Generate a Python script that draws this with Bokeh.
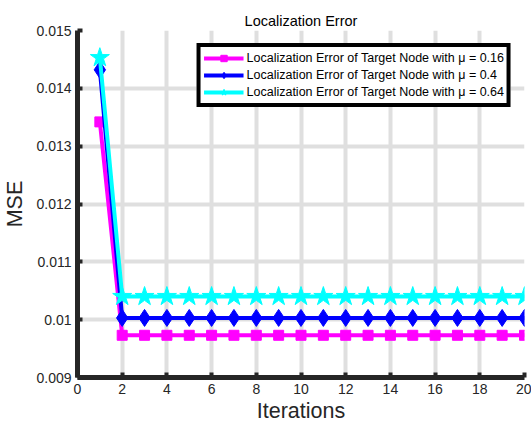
from bokeh.plotting import figure
from bokeh.models import Range1d, FixedTicker, Legend, LegendItem
from bokeh.embed import file_html
from bokeh.resources import INLINE

iterations = [1, 2, 3, 4, 5, 6, 7, 8, 9, 10, 11, 12, 13, 14, 15, 16, 17, 18, 19, 20]
mse_016 = [0.01342, 0.00973, 0.00973, 0.00973, 0.00973, 0.00973, 0.00973, 0.00973, 0.00973, 0.00973,
           0.00973, 0.00973, 0.00973, 0.00973, 0.00973, 0.00973, 0.00973, 0.00973, 0.00973, 0.00973]
mse_04 = [0.01432, 0.01003, 0.01003, 0.01003, 0.01003, 0.01003, 0.01003, 0.01003, 0.01003, 0.01003,
          0.01003, 0.01003, 0.01003, 0.01003, 0.01003, 0.01003, 0.01003, 0.01003, 0.01003, 0.01003]
mse_064 = [0.01453, 0.0104, 0.0104, 0.0104, 0.0104, 0.0104, 0.0104, 0.0104, 0.0104, 0.0104,
           0.0104, 0.0104, 0.0104, 0.0104, 0.0104, 0.0104, 0.0104, 0.0104, 0.0104, 0.0104]

x_ticks = [0, 2, 4, 6, 8, 10, 12, 14, 16, 18, 20]
y_ticks = [0.009, 0.01, 0.011, 0.012, 0.013, 0.014, 0.015]
y_tick_labels = ["0.009", "0.01", "0.011", "0.012", "0.013", "0.014", "0.015"]

labels = [
    "Localization Error of Target Node with \u03bc = 0.16",
    "Localization Error of Target Node with \u03bc = 0.4",
    "Localization Error of Target Node with \u03bc = 0.64",
]

FONT = "Liberation Sans"

p = figure(width=531, height=428, output_backend="svg", toolbar_location=None,
           x_range=Range1d(0, 20), y_range=Range1d(0.009, 0.015),
           min_border_left=77, min_border_right=7, min_border_top=30, min_border_bottom=51)
p.outline_line_color = None
p.background_fill_color = "white"
p.border_fill_color = "white"

p.title.text = "Localization Error"
p.title.align = "center"
p.title.text_font = FONT
p.title.text_font_size = "14.5px"
p.title.text_font_style = "normal"
p.title.text_color = "black"
p.title.standoff = 4

for ax in (p.xaxis[0], p.yaxis[0]):
    ax.axis_line_color = "#262626"
    ax.axis_line_width = 5
    ax.major_tick_line_color = "#262626"
    ax.major_tick_line_width = 4
    ax.major_tick_in = 5
    ax.major_tick_out = 0
    ax.minor_tick_line_color = None
    ax.major_label_text_font = FONT
    ax.major_label_text_font_size = "14px"
    ax.major_label_text_color = "#262626"
    ax.axis_label_text_font = FONT
    ax.axis_label_text_font_size = "21.5px"
    ax.axis_label_text_font_style = "normal"
    ax.axis_label_text_color = "#262626"

p.xaxis.ticker = FixedTicker(ticks=x_ticks)
p.yaxis.ticker = FixedTicker(ticks=y_ticks)
p.yaxis.major_label_overrides = {t: l for t, l in zip(y_ticks, y_tick_labels)}
p.xaxis.axis_label = "Iterations"
p.yaxis.axis_label = "MSE"
p.xaxis.major_label_standoff = 6
p.xaxis.axis_label_standoff = 2
p.yaxis.major_label_standoff = 6
p.yaxis.axis_label_standoff = 6

p.grid.grid_line_color = "#dfdfdf"
p.grid.grid_line_width = 4
p.xgrid.ticker = FixedTicker(ticks=x_ticks)
p.ygrid.ticker = FixedTicker(ticks=y_ticks)

series = [
    (mse_016, "#ff00ff", "square", 10),
    (mse_04, "#0000ff", "diamond", 17),
    (mse_064, "#00ffff", "star", 20),
]
items = []
for (ys, color, marker, size), lab in zip(series, labels):
    r1 = p.line(iterations, ys, line_color=color, line_width=4)
    r2 = p.scatter(iterations, ys, marker=marker, size=size, fill_color=color, line_color=color)
    items.append(LegendItem(label=lab, renderers=[r1, r2]))

legend = Legend(items=items, location="top_right")
legend.margin = 13
legend.padding = 3
legend.spacing = 1
legend.glyph_width = 40
legend.glyph_height = 16
legend.label_standoff = 3
legend.label_height = 16
legend.label_text_font = FONT
legend.label_text_font_size = "12.5px"
legend.label_text_color = "black"
legend.border_line_color = "black"
legend.border_line_alpha = 1.0
legend.border_line_width = 4
legend.background_fill_color = "white"
legend.background_fill_alpha = 1.0
p.add_layout(legend, "center")

open("out.html", "w").write(file_html(p, INLINE))
